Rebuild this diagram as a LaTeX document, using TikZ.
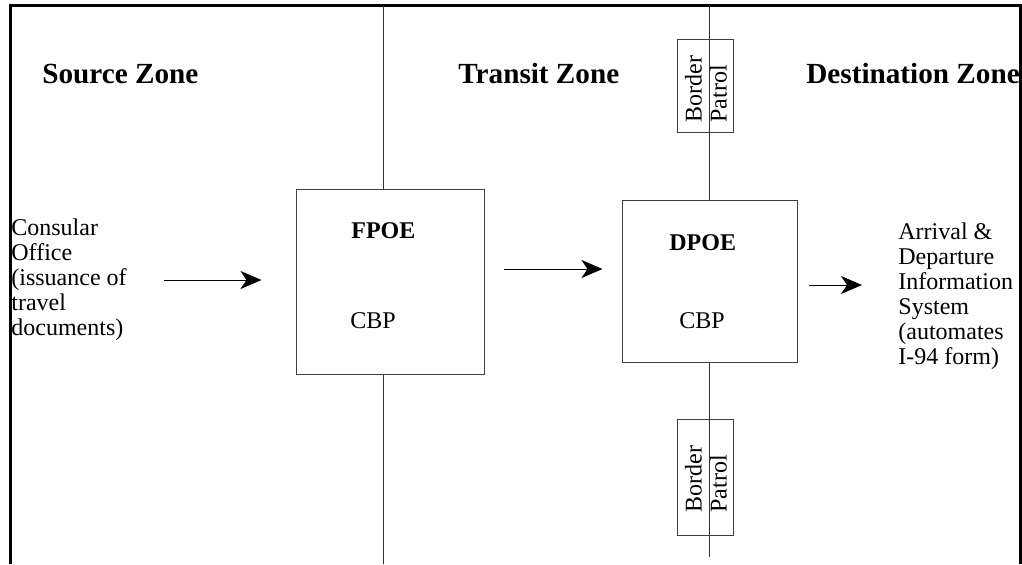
\documentclass[tikz,border=0pt]{standalone}
\usepackage{fontspec}
\setmainfont{Liberation Serif}
\usetikzlibrary{positioning, calc, arrows.meta}

\tikzset{
    box/.style={draw=black!75, line width=0.5pt, inner sep=0pt},
    zone/.style={font=\fontsize{14.6}{17}\selectfont\bfseries, anchor=base west, inner sep=0pt},
    lbl/.style={font=\fontsize{12}{14}\selectfont, anchor=base west, inner sep=0pt},
    txt/.style={font=\fontsize{12}{12.5}\selectfont, align=flush left, inner sep=0pt},
    arr/.style={-{Stealth[length=10.5pt, width=9pt, inset=3pt]}, line width=0.5pt},
    sep/.style={draw=black!80, line width=0.5pt},
    frame/.style={line width=1.5pt}
}

\begin{document}
\begin{tikzpicture}[x=0.5pt, y=-0.5pt]
    \useasboundingbox (0,0) rectangle (1022,564);
    \draw[frame] (10.5,564) -- (10.5,5.5) -- (1020.5,5.5) -- (1020.5,564);

    % zones
    \node (Src) at (42,83) [zone] {Source Zone};
    \node (Trn) at (458,83) [zone] {Transit Zone};
    \node (Dst) at (806,83) [zone] {Destination Zone};

    % ports of entry
    \node (FPOE) at (390,281.5) [box, minimum width=94pt, minimum height=92.5pt] {};
    \node (FPOEt) at (351,238) [lbl, font=\fontsize{12}{14}\selectfont\bfseries] {FPOE};
    \node (FPOEc) at (350,328) [lbl] {CBP};

    \node (DPOE) at (709.5,281) [box, minimum width=87.5pt, minimum height=81pt] {};
    \node (DPOEt) at (669,250) [lbl, font=\fontsize{12}{14}\selectfont\bfseries] {DPOE};
    \node (DPOEc) at (679,328) [lbl] {CBP};

    \node (Cons) at (11,280) [txt, anchor=west, text width=62pt] {Consular\\Office\\(issuance of\\travel\\documents)};
    \node (Arr) at (898,296) [txt, anchor=west] {Arrival \&\\Departure\\Information\\System\\(automates\\I-94 form)};

    \foreach \n/\yc/\h/\yt in {1/85.5/46.5/123, 2/477/58/513}
    {
        \node (BP\n) at (705,\yc) [box, minimum width=28pt, minimum height=\h pt] {};
        \node (BPt\n) at (706,\yt) [txt, rotate=90, anchor=west] {Border\\Patrol};
    }

    % zone borders
    \coordinate (L1a) at (383,5.5);
    \coordinate (L1b) at (383,564);
    \coordinate (L2a) at (709,5.5);
    \coordinate (L2b) at (709,557);
    \draw[sep] (L1a) -- (L1a |- FPOE.north);
    \draw[sep] (FPOE.south -| L1b) -- (L1b);
    \draw[sep] (L2a) -- (L2a |- DPOE.north);
    \draw[sep] (DPOE.south -| L2b) -- (L2b);

    % flow
    \coordinate (a2) at ([yshift=6.25pt]FPOE.east);
    \coordinate (a3) at ([yshift=-2pt]DPOE.east);
    \draw[arr, shorten <=14pt, shorten >=17pt] (Cons.east) -- (Cons.east -| FPOE.west);
    \draw[arr, shorten <=9.5pt, shorten >=9.5pt] (a2) -- (a2 -| DPOE.west);
    \draw[arr, shorten <=5.5pt, shorten >=18pt] (a3) -- (a3 -| Arr.west);
\end{tikzpicture}
\end{document}
